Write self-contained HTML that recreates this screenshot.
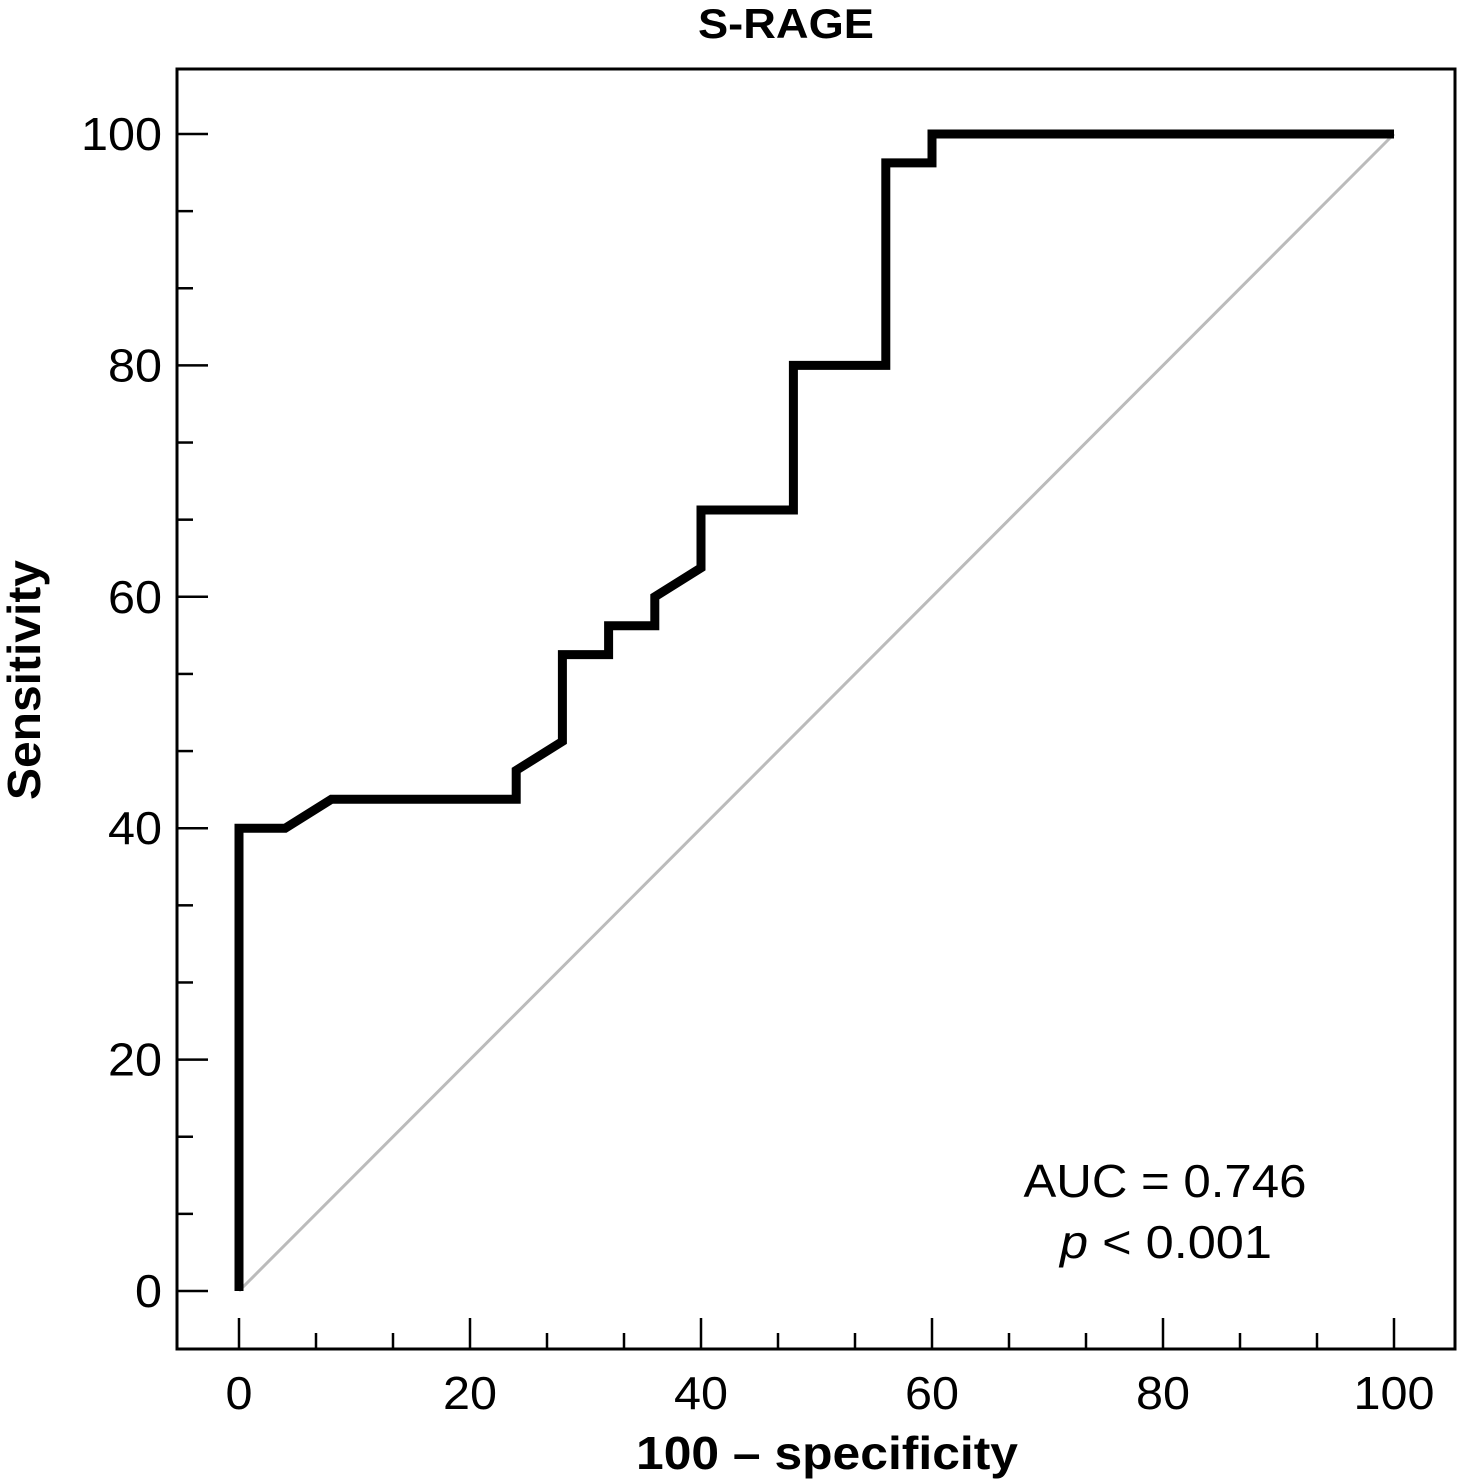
<!DOCTYPE html>
<html><head><meta charset="utf-8"><style>
html,body{margin:0;padding:0;background:#fff;}
svg{display:block;font-family:"Liberation Sans","DejaVu Sans",sans-serif;}
</style></head><body>
<svg id="chart" width="1464" height="1483" viewBox="0 0 1464 1483">
<text x="786" y="38" text-anchor="middle" font-size="42" font-weight="bold" textLength="176" lengthAdjust="spacingAndGlyphs">S-RAGE</text>
<rect x="177" y="69" width="1278" height="1280" fill="none" stroke="#000" stroke-width="3"/>
<g id="ticks"></g>
<line id="diag" stroke="#bbb" stroke-width="3"/>
<polyline id="roc" fill="none" stroke="#000" stroke-width="9" stroke-linejoin="miter"/>
<text x="1165" y="1197" text-anchor="middle" font-size="46" textLength="283" lengthAdjust="spacingAndGlyphs">AUC = 0.746</text>
<text x="1166" y="1258" text-anchor="middle" font-size="46" textLength="212" lengthAdjust="spacingAndGlyphs"><tspan font-style="italic">p</tspan> &lt; 0.001</text>
<text x="827" y="1469" text-anchor="middle" font-size="46" font-weight="bold" textLength="382" lengthAdjust="spacingAndGlyphs">100 – specificity</text>
<text transform="translate(40,680) rotate(-90)" text-anchor="middle" font-size="46" font-weight="bold" textLength="240" lengthAdjust="spacingAndGlyphs">Sensitivity</text>
</svg>
<script>
const fpr = [0,0,4,8,24,24,28,28,32,32,36,36,40,40,48,48,56,56,60,60,100];
const tpr = [0,40,40,42.5,42.5,45,47.5,55,55,57.5,57.5,60,62.5,67.5,67.5,80,80,97.5,97.5,100,100];
const tickLabels = ["0","20","40","60","80","100"];
const tickValues = [0,20,40,60,80,100];
const X = v => 239 + v * 11.55;
const Y = v => 1291 - v * 11.57;
const NS = "http://www.w3.org/2000/svg";
const svg = document.getElementById("chart");
const g = document.getElementById("ticks");
function mk(tag, attrs){const e=document.createElementNS(NS,tag);for(const k in attrs)e.setAttribute(k,attrs[k]);return e;}
for(let i=0;i<=15;i++){
  const v=i*20/3, major=i%3===0;
  const lx=mk("line",{x1:X(v),x2:X(v),y1:1349,y2:1349-(major?31:16),stroke:"#000","stroke-width":2.5});
  
  
  g.appendChild(lx);
  const ly=mk("line",{x1:177,x2:177+(major?31:16),y1:Y(v),y2:Y(v),stroke:"#000","stroke-width":2.5});
  
  
  g.appendChild(ly);
}
tickValues.forEach((v,i)=>{
  const s=tickLabels[i].length*27;
  const tx=mk("text",{x:X(v),y:1409,"text-anchor":"middle","font-size":46,textLength:s,lengthAdjust:"spacingAndGlyphs"});
  tx.textContent=tickLabels[i];
  
  
  svg.appendChild(tx);
  const ty=mk("text",{x:162,y:Y(v)+16,"text-anchor":"end","font-size":46,textLength:s,lengthAdjust:"spacingAndGlyphs"});
  ty.textContent=tickLabels[i];
  
  
  svg.appendChild(ty);
});
const d=document.getElementById("diag");
d.setAttribute("x1",X(0));d.setAttribute("y1",Y(0));d.setAttribute("x2",X(100));d.setAttribute("y2",Y(100));
document.getElementById("roc").setAttribute("points",fpr.map((f,i)=>X(f)+","+Y(tpr[i])).join(" "));
</script>
</body></html>
